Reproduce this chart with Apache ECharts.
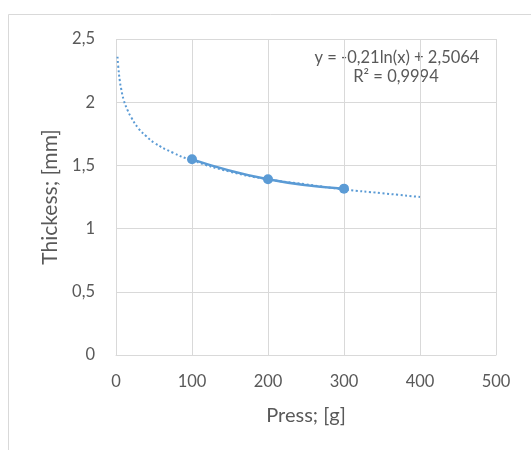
<!DOCTYPE html>
<html>
<head>
<meta charset="utf-8">
<script src="https://cdn.jsdelivr.net/npm/echarts@6/dist/echarts.min.js"></script>
<style>
html,body{margin:0;padding:0;background:#fff;}
#c{width:531px;height:450px;}
</style>
</head>
<body>
<div id="c"></div>
<script>
// measured points
var pressX = [100, 200, 300];
var thickY = [1.548, 1.39, 1.316];
// logarithmic trendline
var trendX = [2, 3, 5, 7, 10, 15, 20, 30, 40, 50, 75, 100, 150, 200, 250, 300, 350, 400];
var trendY = [2.36, 2.28, 2.17, 2.10, 2.02, 1.94, 1.88, 1.79, 1.73, 1.68, 1.60, 1.54, 1.45, 1.39, 1.35, 1.31, 1.28, 1.25];
var trendLabel = "y = -0,21ln(x) + 2,5064";
var r2Label = "R² = 0,9994";
var xName = "Press; [g]";
var yName = "Thickess; [mm]";

var font = "Lato, 'Open Sans', sans-serif";
var grey = "#595959";
var gridC = "#d9d9d9";
var blue = "#5b9bd5";

var chart = echarts.init(document.getElementById('c'), null, {renderer: 'canvas'});
chart.setOption({
  animation: false,
  backgroundColor: '#fff',
  grid: {left: 116, right: 35, top: 39, bottom: 95},
  xAxis: {
    type: 'value', min: 0, max: 500, interval: 100,
    name: xName, nameLocation: 'middle', nameGap: 51,
    nameTextStyle: {fontFamily: font, fontSize: 20, color: grey},
    axisLine: {show: true, lineStyle: {color: gridC, width: 1}},
    axisTick: {show: false},
    axisLabel: {fontFamily: font, fontSize: 16.5, color: grey, margin: 18},
    splitLine: {show: true, lineStyle: {color: gridC, width: 1}}
  },
  yAxis: {
    type: 'value', min: 0, max: 2.5, interval: 0.5,
    name: yName, nameLocation: 'middle', nameGap: 54,
    nameTextStyle: {fontFamily: font, fontSize: 21, color: grey},
    axisLine: {show: false},
    axisTick: {show: false},
    axisLabel: {fontFamily: font, fontSize: 16.5, color: grey, margin: 21,
      formatter: function (v) { return String(v).replace('.', ','); }},
    splitLine: {show: true, lineStyle: {color: gridC, width: 1}}
  },
  series: [
    {
      type: 'line',
      data: trendX.map(function (x, i) { return [x, trendY[i]]; }),
      smooth: true,
      showSymbol: false,
      lineStyle: {color: blue, width: 2, type: [2, 2.5]},
      z: 2
    },
    {
      type: 'line',
      data: pressX.map(function (x, i) { return [x, thickY[i]]; }),
      smooth: true,
      symbol: 'circle',
      symbolSize: 10,
      itemStyle: {color: blue},
      lineStyle: {color: blue, width: 2.5},
      z: 3
    }
  ],
  graphic: [
    {type: 'rect', shape: {x: 8.5, y: 14.5, width: 600, height: 500},
     style: {fill: null, stroke: gridC, lineWidth: 1}, silent: true, z: -1},
    {type: 'text', x: 397, y: 57.5,
     style: {text: trendLabel, font: "16.5px " + font, fill: grey, textAlign: 'center', textVerticalAlign: 'middle'}},
    {type: 'text', x: 396, y: 77,
     style: {text: r2Label, font: "16.5px " + font, fill: grey, textAlign: 'center', textVerticalAlign: 'middle'}}
  ]
});
</script>
</body>
</html>
